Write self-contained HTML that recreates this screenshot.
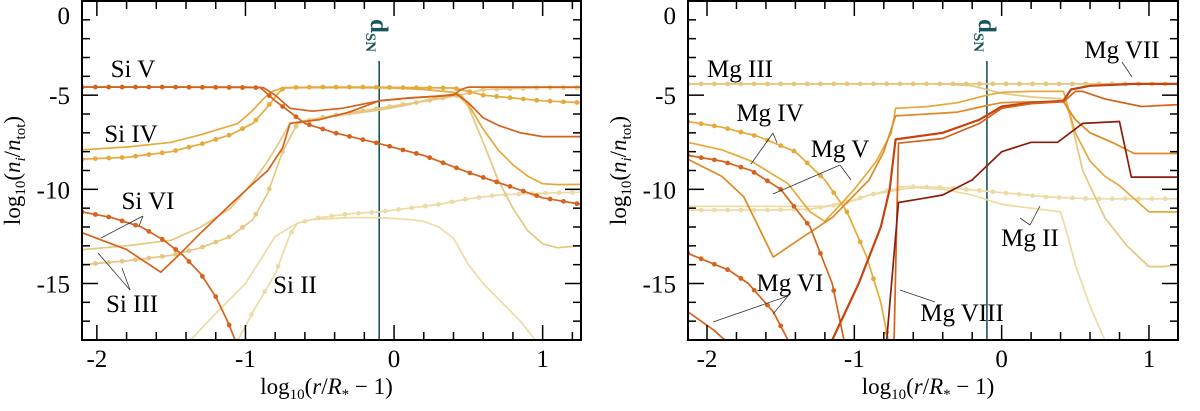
<!DOCTYPE html>
<html><head><meta charset="utf-8"><style>
html,body{margin:0;padding:0;background:#fff;width:1200px;height:411px;overflow:hidden}
svg{display:block}
text{font-family:"Liberation Serif",serif;fill:#000}
</style></head><body>
<svg id="chart" width="1200" height="411" viewBox="0 0 1200 411" xmlns="http://www.w3.org/2000/svg"></svg>
<script>
// ---- data (x = log10(r/R*-1), y = log10(ni/ntot)) ----
const siCategories = ["Si II","Si III","Si IV","Si V","Si VI"];
const siIIsolidX=[-1.37,-1.2,-1.0,-0.8,-0.65,-0.55,-0.3,-0.1,0.1,0.2,0.3,0.4,0.5,0.6,0.75,0.85,0.95];
const siIIsolidY=[-18,-16.6,-15,-12.5,-11.8,-11.6,-11.5,-11.5,-11.6,-11.7,-12,-12.6,-14,-15,-16.2,-17,-18];
const siIIdotX=[-1.05,-0.95,-0.8,-0.7,-0.65,-0.5,-0.3,-0.1,0.1,0.3,0.5,0.7,1.0,1.26];
const siIIdotY=[-18,-16.5,-14.5,-12.4,-11.8,-11.5,-11.3,-11.2,-11.0,-10.8,-10.5,-10.3,-10.2,-10.15];
const siIIIsolidX=[-2.1,-1.8,-1.5,-1.3,-1.1,-0.95,-0.85,-0.75,-0.7,-0.5,-0.3,-0.1,0.1,0.3,0.42,0.5,0.6,0.7,0.8,0.9,1.0,1.1,1.26];
const siIIIsolidY=[-13.2,-13.0,-12.7,-12.0,-11.0,-9.6,-8.5,-7.2,-6.5,-6.2,-6.0,-5.8,-5.5,-5.1,-4.9,-5.6,-7.5,-9.5,-11,-12.2,-12.9,-13.1,-13.0];
const siIIIdotX=[-2.1,-1.8,-1.5,-1.3,-1.1,-0.95,-0.85,-0.75,-0.65,-0.5,-0.35,-0.1,0.1,0.3,0.5,0.6,0.8,1.0,1.26];
const siIIIdotY=[-14.0,-13.8,-13.5,-13.1,-12.5,-11.6,-10.2,-8.0,-6.5,-6.2,-6.0,-5.7,-5.45,-5.2,-4.9,-4.7,-4.65,-4.6,-4.6];
const siIVsolidX=[-2.1,-1.8,-1.5,-1.3,-1.05,-0.95,-0.88,-0.82,-0.75,-0.6,-0.3,0.0,0.2,0.4,0.45,0.5,0.6,0.7,0.8,0.9,1.0,1.1,1.26];
const siIVsolidY=[-7.9,-7.75,-7.5,-7.1,-6.5,-5.8,-5.2,-4.8,-4.62,-4.6,-4.6,-4.62,-4.7,-4.85,-5.0,-5.5,-6.8,-7.9,-8.7,-9.3,-9.7,-9.75,-9.74];
const siIVdotX=[-2.1,-1.8,-1.5,-1.3,-1.1,-0.95,-0.85,-0.78,-0.74,-0.5,-0.2,0.1,0.4,0.5,0.6,0.8,1.0,1.26];
const siIVdotY=[-8.4,-8.3,-8.0,-7.6,-7.1,-6.5,-5.6,-4.9,-4.6,-4.57,-4.57,-4.6,-4.62,-4.8,-5.0,-5.15,-5.3,-5.4];
const siVsolidX=[-2.1,-1.5,-1.0,-0.88,-0.8,-0.7,-0.55,-0.35,-0.1,0.1,0.3,0.4,0.45,0.5,0.8,1.26];
const siVsolidY=[-4.57,-4.57,-4.57,-4.6,-5.0,-5.7,-5.85,-5.7,-5.3,-5.15,-5.05,-5.0,-4.7,-4.57,-4.57,-4.57];
const siVdotX=[-2.1,-1.5,-0.9,-0.8,-0.7,-0.6,-0.4,-0.1,0.2,0.5,0.8,1.0,1.26];
const siVdotY=[-4.57,-4.57,-4.6,-5.3,-5.9,-6.5,-7.0,-7.57,-8.2,-9.1,-9.9,-10.45,-10.8];
const siVIsolidX=[-2.1,-1.8,-1.57,-1.45,-1.3,-1.1,-0.95,-0.85,-0.75,-0.7,-0.5,-0.3,-0.1,0.1,0.3,0.42,0.5,0.6,0.7,0.85,1.0,1.26];
const siVIsolidY=[-12.3,-13.2,-14.4,-13.5,-12.3,-10.8,-9.7,-9.0,-7.8,-6.5,-6.3,-5.9,-5.3,-5.15,-5.05,-4.95,-5.4,-6.2,-6.6,-7.0,-7.2,-7.2];
const siVIdotX=[-2.1,-1.9,-1.7,-1.55,-1.42,-1.3,-1.2,-1.12,-1.07];
const siVIdotY=[-11.2,-11.5,-12.0,-12.7,-13.5,-14.5,-15.7,-17.0,-18];

const mgCategories = ["Mg II","Mg III","Mg IV","Mg V","Mg VI","Mg VII","Mg VIII"];
const mgIIsolidX=[-2.13,-1.5,-1.2,-1.0,-0.9,-0.6,-0.4,-0.2,0.0,0.2,0.4,0.45,0.5,0.6,0.7];
const mgIIsolidY=[-10.9,-10.9,-10.9,-10.6,-10.3,-9.9,-10.0,-10.3,-10.8,-11.0,-11.2,-12.5,-14,-16.2,-18];
const mgIIdotX=[-2.13,-1.6,-1.3,-1.1,-0.9,-0.65,-0.4,-0.1,0.1,0.3,0.6,0.9,1.2];
const mgIIdotY=[-11.1,-11.1,-11.05,-10.8,-10.3,-9.85,-9.9,-10.1,-10.25,-10.4,-10.5,-10.5,-10.5];
const mgIIIsolidX=[-2.13,-1.0,-0.4,-0.2,0.0,0.2,0.42,0.46,0.55,0.7,0.85,1.0,1.1,1.2];
const mgIIIsolidY=[-4.4,-4.4,-4.4,-4.5,-4.9,-5.1,-5.2,-6.0,-9.0,-11.5,-13.0,-14.1,-14.1,-14.0];
const mgIIIdotX=[-2.13,-1.0,0.0,0.6,1.2];
const mgIIIdotY=[-4.4,-4.4,-4.4,-4.4,-4.4];
const mgIVsolidX=[-2.13,-1.9,-1.7,-1.45,-1.3,-1.2,-1.0,-0.85,-0.75,-0.72,-0.5,-0.3,-0.1,0.0,0.2,0.42,0.5,0.6,0.7,0.8,0.9,1.0,1.2];
const mgIVsolidY=[-7.5,-7.9,-8.5,-9.7,-11.2,-11.7,-10.0,-8.5,-7.0,-5.7,-5.6,-5.4,-5.0,-4.85,-4.8,-4.8,-7.0,-8.5,-9.3,-9.8,-10.5,-11.2,-11.2];
const mgIVdotX=[-2.13,-1.9,-1.65,-1.4,-1.2,-1.05,-0.92,-0.82,-0.77];
const mgIVdotY=[-6.4,-6.7,-7.2,-8.0,-9.5,-11.2,-13.5,-16.0,-18];
const mgVsolidX=[-2.13,-1.9,-1.75,-1.55,-1.4,-1.15,-0.9,-0.8,-0.72,-0.5,-0.3,-0.1,0.0,0.2,0.42,0.5,0.6,0.75,0.9,1.2];
const mgVsolidY=[-8.4,-9.3,-10.4,-13.6,-12.8,-11.5,-9.5,-8.0,-6.1,-6.0,-5.9,-5.55,-5.4,-5.35,-5.35,-6.3,-7.0,-7.5,-8.1,-8.1];
const mgVdotX=[-2.13,-1.9,-1.7,-1.5,-1.3,-1.15,-1.07];
const mgVdotY=[-8.2,-8.5,-9.0,-10.0,-12.0,-15.0,-18];
const mgVIsolidX=[-2.13,-1.95,-1.88];
const mgVIsolidY=[-16.5,-17.5,-18];
const mgVIdotX=[-2.13,-1.85,-1.72,-1.55,-1.45];
const mgVIdotY=[-13.4,-14.3,-15.0,-16.5,-18];
const mgVIIsolidX=[-1.15,-0.97,-0.82,-0.76,-0.72,-0.4,-0.15,0.0,0.2,0.42,0.47,0.6,0.9,1.2];
const mgVIIsolidY=[-18,-15,-12,-10,-7.35,-7.0,-6.3,-5.6,-5.4,-5.3,-4.7,-4.5,-4.4,-4.4];
const mgVIIdotX=[-0.73,-0.7,-0.4,-0.15,0.0,0.2,0.42,0.5,0.55,0.7,0.95,1.2];
const mgVIIdotY=[-18,-7.55,-7.3,-6.5,-5.7,-5.45,-5.35,-4.8,-4.8,-5.2,-5.6,-5.5];
const mgVIIIX=[-0.78,-0.7,-0.55,-0.4,-0.2,0.0,0.2,0.38,0.55,0.8,0.88,1.0,1.2];
const mgVIIIY=[-18,-10.7,-10.5,-10.3,-9.5,-8.0,-7.5,-7.5,-6.5,-6.4,-9.35,-9.35,-9.35];

const xTicks=[-2,-1,0,1], xTickLabels=["-2","-1","0","1"];
const yTicks=[0,-5,-10,-15], yTickLabels=["0","-5","-10","-15"];
const dSN=-0.1;

const C={II:"#eddba6",III:"#e6c77f",IV:"#e6aa3a",V:"#df8a26",VI:"#d6621c",VII:"#c6420e",VIII:"#8a1e0c"};
const NS="http://www.w3.org/2000/svg";
const svg=document.getElementById('chart');
function mk(tag,attrs,parent){const e=document.createElementNS(NS,tag);for(const k in attrs)e.setAttribute(k,attrs[k]);(parent||svg).appendChild(e);return e;}

function panel(P){
  const sx=v=>P.x0+(v-P.xmin)/(P.xmax-P.xmin)*(P.x1-P.x0);
  const sy=v=>P.y0+(0-v)/18*(P.y1-P.y0);
  const g=mk('g',{});
  
  
  const cid='clip'+P.name;
  const cp=mk('clipPath',{id:cid},g);mk('rect',{x:P.x0,y:P.y0,width:P.x1-P.x0,height:P.y1-P.y0},cp);
  const plot=mk('g',{'clip-path':'url(#'+cid+')'},g);
  const vl=mk('line',{x1:sx(dSN),x2:sx(dSN),y1:P.y0+60,y2:P.y1,stroke:'#175757','stroke-width':1.6},plot);
  
  
  const dl=mk('text',{x:0,y:0,'font-size':25,fill:'#175757',transform:`translate(${sx(dSN)-8},${P.y0+18}) rotate(90)`},g);
  
  
  dl.innerHTML='<tspan font-weight="bold" fill="#175757">d</tspan><tspan font-size="15" dy="5" font-weight="bold" fill="#175757">SN</tspan>';
  P.series.forEach(s=>{
    const d=s.x.map((v,i)=>(i?'L':'M')+sx(v).toFixed(1)+','+sy(s.y[i]).toFixed(1)).join('');
    const p=mk('path',{d:d,fill:'none',stroke:s.c,'stroke-width':s.w||1.7,'stroke-linejoin':'round'},plot);
    
    
    if(s.dots){
      for(let xv=s.x[0];xv<=s.x[s.x.length-1]+1e-6;xv+=0.09){
        let k=0;while(k<s.x.length-2&&s.x[k+1]<xv)k++;
        const t=(xv-s.x[k])/(s.x[k+1]-s.x[k]);const yv=s.y[k]+t*(s.y[k+1]-s.y[k]);
        const c=mk('circle',{cx:sx(xv),cy:sy(yv),r:2.4,fill:s.c},plot);
        
        
      }
    }
  });
  const fr=mk('rect',{x:P.x0,y:P.y0,width:P.x1-P.x0,height:P.y1-P.y0,fill:'none',stroke:'#000','stroke-width':2},g);
  
  
  for(let v=-2.2;v<=1.3;v+=0.2){const vv=Math.round(v*10)/10;if(vv<P.xmin||vv>P.xmax)continue;
    const maj=Math.abs(vv-Math.round(vv))<1e-6;const L=maj?15:8;const X=sx(vv);
    mk('line',{x1:X,x2:X,y1:P.y1,y2:P.y1-L,stroke:'#000','stroke-width':1.5},g);
    mk('line',{x1:X,x2:X,y1:P.y0,y2:P.y0+L,stroke:'#000','stroke-width':1.5},g);}
  for(let v=0;v>=-18;v--){const maj=v%5===0;const L=maj?16:8;const Y=sy(v);
    mk('line',{x1:P.x0,x2:P.x0+L,y1:Y,y2:Y,stroke:'#000','stroke-width':1.5},g);
    mk('line',{x1:P.x1,x2:P.x1-L,y1:Y,y2:Y,stroke:'#000','stroke-width':1.5},g);}
  xTicks.forEach((v,i)=>{const t=mk('text',{x:sx(v),y:P.y1+27,'font-size':25,'text-anchor':'middle'},g);t.textContent=xTickLabels[i];
    
    });
  yTicks.forEach((v,i)=>{const t=mk('text',{x:P.x0-12,y:Math.max(sy(v)+9,24),'font-size':25,'text-anchor':'end'},g);t.textContent=yTickLabels[i];
    
    });
  const xt=mk('text',{x:(P.x0+P.x1)/2-5,y:394,'font-size':23,'text-anchor':'middle'},g);
  
  
  xt.innerHTML='log<tspan font-size="15" dy="5">10</tspan><tspan dy="-5">(</tspan><tspan font-style="italic">r</tspan>/<tspan font-style="italic">R</tspan><tspan font-size="15" dy="5">*</tspan><tspan dy="-5"> − 1)</tspan>';
  const yt=mk('text',{x:0,y:0,'font-size':23,'text-anchor':'middle',transform:`translate(${P.x0-62},${(P.y0+P.y1)/2}) rotate(-90)`},g);
  
  
  yt.innerHTML='log<tspan font-size="15" dy="5">10</tspan><tspan dy="-5">(</tspan><tspan font-style="italic">n</tspan><tspan font-style="italic" font-size="15" dy="5">i</tspan><tspan dy="-5">/</tspan><tspan font-style="italic">n</tspan><tspan font-size="15" dy="5">tot</tspan><tspan dy="-5">)</tspan>';
  P.labels.forEach(l=>{const t=mk('text',{x:l[1],y:l[2],'font-size':25,'text-anchor':'middle'},g);t.textContent=l[0];
    
    });
  P.leaders.forEach(l=>{const ln=mk('line',{x1:l[0],y1:l[1],x2:l[2],y2:l[3],stroke:'#333','stroke-width':0.8},g);
    
    });
}

panel({name:'silicon-panel',x0:82,x1:581,y0:1,y1:340,xmin:-2.1,xmax:1.258,
 series:[
  {n:'si-ii-solid',x:siIIsolidX,y:siIIsolidY,c:C.II},
  {n:'si-ii-dotted',x:siIIdotX,y:siIIdotY,c:C.II,dots:1},
  {n:'si-iii-solid',x:siIIIsolidX,y:siIIIsolidY,c:C.III},
  {n:'si-iii-dotted',x:siIIIdotX,y:siIIIdotY,c:C.III,dots:1},
  {n:'si-iv-solid',x:siIVsolidX,y:siIVsolidY,c:C.IV},
  {n:'si-iv-dotted',x:siIVdotX,y:siIVdotY,c:C.IV,dots:1},
  {n:'si-vi-solid',x:siVIsolidX,y:siVIsolidY,c:C.VI},
  {n:'si-vi-dotted',x:siVIdotX,y:siVIdotY,c:C.VI,dots:1},
  {n:'si-v-solid',x:siVsolidX,y:siVsolidY,c:C.VI},
  {n:'si-v-dotted',x:siVdotX,y:siVdotY,c:C.VI,dots:1}],
 labels:[['Si V',133,77],['Si IV',131,142],['Si VI',148,209],['Si III',132,312],['Si II',295,293]],
 leaders:[[143,216,101,238],[143,216,139,226],[130,290,98,253],[130,290,122,268]]});

panel({name:'magnesium-panel',x0:688,x1:1178,y0:1,y1:340,xmin:-2.129,xmax:1.197,
 series:[
  {n:'mg-ii-solid',x:mgIIsolidX,y:mgIIsolidY,c:C.II},
  {n:'mg-ii-dotted',x:mgIIdotX,y:mgIIdotY,c:C.II,dots:1},
  {n:'mg-iii-solid',x:mgIIIsolidX,y:mgIIIsolidY,c:C.III},
  {n:'mg-iii-dotted',x:mgIIIdotX,y:mgIIIdotY,c:C.III,dots:1},
  {n:'mg-iv-solid',x:mgIVsolidX,y:mgIVsolidY,c:C.IV},
  {n:'mg-iv-dotted',x:mgIVdotX,y:mgIVdotY,c:C.IV,dots:1},
  {n:'mg-v-solid',x:mgVsolidX,y:mgVsolidY,c:C.V},
  {n:'mg-v-dotted',x:mgVdotX,y:mgVdotY,c:C.VI,dots:1},
  {n:'mg-vi-solid',x:mgVIsolidX,y:mgVIsolidY,c:C.VI},
  {n:'mg-vi-dotted',x:mgVIdotX,y:mgVIdotY,c:C.VI,dots:1},
  {n:'mg-vii-solid',x:mgVIIsolidX,y:mgVIIsolidY,c:C.VII,w:2.2},
  {n:'mg-vii-second',x:mgVIIdotX,y:mgVIIdotY,c:C.VI},
  {n:'mg-viii',x:mgVIIIX,y:mgVIIIY,c:C.VIII}],
 labels:[['Mg III',740,77],['Mg IV',770,121],['Mg V',840,157],['Mg VII',1122,58],['Mg II',1030,246],['Mg VIII',962,321],['Mg VI',790,291]],
 leaders:[[773,133,751,164],[773,133,777,143],[840,165,773,194],[840,165,851,180],[1122,62,1132,77],[1030,225,1020,218],[1030,225,1040,206],[935,302,900,290],[788,296,713,322],[788,296,773,314]]});
</script>
</body></html>
